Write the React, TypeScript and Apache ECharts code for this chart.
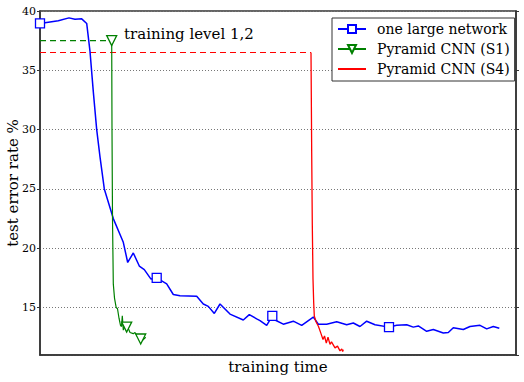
import React, { useEffect, useRef } from "react";
import * as echarts from "echarts";

// ---- data (x = training time in arbitrary units, y = test error rate %) ----
const blueX = [0, 18.3, 29, 35, 41.7, 46.7, 50, 53.3, 56.7, 60, 64.3, 73.3, 83.3, 87.7, 93.3, 99.3, 104.3, 111, 116.7, 126.7, 133.3, 140, 156.7, 163.3, 168.3, 174.3, 180, 190, 203.3, 209.3, 216.7, 220, 226.7, 232.3, 235, 243.3, 253.3, 261.7, 273.3, 278.3, 286.7, 296.7, 306.7, 313.3, 320, 326.7, 335, 349, 356.7, 366.7, 373.3, 378.3, 386.7, 393.3, 403.3, 408.3, 413.3, 423.3, 430, 440, 446.7, 453.3, 459.3];
const blueY = [38.95, 39.17, 39.42, 39.31, 39.34, 38.95, 36.6, 33.2, 30, 27.7, 25, 22.5, 20.5, 18.8, 19.6, 18.5, 18.2, 17.4, 17.5, 17.0, 16.1, 16.0, 15.95, 15.3, 15.1, 14.5, 15.3, 14.45, 13.95, 14.4, 14.05, 13.9, 13.5, 14.3, 13.95, 13.6, 13.85, 13.5, 14.2, 13.6, 13.6, 13.8, 13.55, 13.7, 13.4, 13.85, 13.55, 13.35, 13.5, 13.55, 13.35, 13.45, 13.0, 13.15, 12.85, 12.9, 13.3, 13.15, 13.4, 13.5, 13.2, 13.4, 13.25];
const blueMarkerX = [0, 116.7, 232.3, 349];

const greenX = [71.7, 72, 72.5, 73.3, 74.5, 76.2, 77.5, 79, 80.5, 81.5, 82.3, 83.3, 85, 86.7, 88, 90, 93.3, 95, 97, 100.7, 102, 105.7];
const greenY = [37.5, 30, 22.5, 17, 15.8, 15.0, 14.9, 14.1, 13.5, 13.4, 14.3, 13.1, 13.6, 13.35, 13.3, 12.9, 12.8, 12.9, 12.6, 12.35, 12.2, 12.5];
const greenMarkerX = [71.7, 86.7, 100.7];

const redX = [271, 271.3, 271.7, 272.3, 273, 273.7, 274.3, 276, 278.5, 281, 283, 284.5, 286.3, 288, 290, 291.5, 295, 297.5, 300, 301.7, 302.7, 303.3];
const redY = [36.5, 33, 28, 22, 17.4, 15.4, 14.3, 13.8, 13.4, 12.8, 12.3, 12.6, 12.0, 12.5, 11.9, 12.1, 11.6, 11.75, 11.35, 11.5, 11.3, 11.45];

const levelS1 = 37.5; // training level 1,2 (S1)
const levelS4 = 36.5; // training level (S4)

const seriesNames = ["one large network", "Pyramid CNN (S1)", "Pyramid CNN (S4)"];
const annotation = "training level 1,2";

const FONT = '"DejaVu Serif", serif';
const BLUE = "#0000ff";
const GREEN = "#008000";
const RED = "#ff0000";

function withMarkers(xs: number[], ys: number[], markers: number[]) {
  return xs.map((x, i) =>
    markers.includes(x) ? { value: [x, ys[i]] } : { value: [x, ys[i]], symbol: "none" }
  );
}

export default function App() {
  const ref = useRef<HTMLDivElement>(null);
  useEffect(() => {
    document.body.style.margin = "0";
    const chart = echarts.init(ref.current!, null, { renderer: "svg" });
    const yAxisBase = {
      type: "value",
      min: 11,
      max: 40,
      axisLine: { show: true, lineStyle: { color: "#333", width: 1.5 } },
      axisTick: { show: true, length: 3, lineStyle: { color: "#333" } },
    };
    chart.setOption({
      animation: false,
      backgroundColor: "#fff",
      grid: {
        left: 40,
        right: 8,
        top: 11,
        bottom: 27,
        show: true,
        borderColor: "#333",
        borderWidth: 1.5,
        outerBoundsMode: "none",
        containLabel: false,
      },
      xAxis: {
        type: "value",
        min: 0,
        max: 476,
        name: "training time",
        nameLocation: "middle",
        nameGap: 4,
        nameMoveOverlap: false,
        nameTextStyle: { fontFamily: FONT, fontSize: 15, color: "#000", verticalAlign: "top" },
        axisLine: { show: true, lineStyle: { color: "#333", width: 1.5 } },
        axisTick: { show: false },
        axisLabel: { show: false },
        splitLine: { show: false },
      },
      yAxis: [
        {
          ...yAxisBase,
          position: "left",
          name: "test error rate %",
          nameLocation: "middle",
          nameGap: 20,
          nameMoveOverlap: false,
          nameTextStyle: { fontFamily: FONT, fontSize: 15, color: "#000" },
          axisLabel: {
            showMinLabel: false,
            fontFamily: FONT,
            fontSize: 11,
            color: "#000",
            margin: 4,
          },
          splitLine: {
            show: true,
            lineStyle: { color: "#777", type: [1, 2], width: 1 },
          },
        },
        {
          ...yAxisBase,
          position: "right",
          axisLabel: { show: false },
          splitLine: { show: false },
        },
      ],
      legend: {
        data: [
          seriesNames[0],
          seriesNames[1],
          { name: seriesNames[2], itemStyle: { opacity: 0 } },
        ],
        orient: "vertical",
        left: 332,
        top: 18,
        padding: [4, 5, 5, 5],
        itemGap: 6,
        itemWidth: 28,
        itemHeight: 10,
        backgroundColor: "#fff",
        borderColor: "#333",
        borderWidth: 1,
        borderRadius: 0,
        textStyle: {
          fontFamily: FONT,
          fontSize: 14,
          color: "#000",
          lineHeight: 14,
          padding: [0, 0, 0, 6],
        },
      },
      graphic: [
        {
          type: "text",
          x: 124,
          y: 26,
          style: {
            text: annotation,
            font: `15px ${FONT}`,
            fill: "#000",
            textVerticalAlign: "top",
          },
        },
      ],
      series: [
        {
          name: "S1 level",
          type: "line",
          data: [[0, levelS1], [greenX[0], levelS1]],
          symbol: "none",
          lineStyle: { color: GREEN, width: 1.2, type: [6, 4] },
          z: 2,
        },
        {
          name: "S4 level",
          type: "line",
          data: [[0, levelS4], [redX[0], levelS4]],
          symbol: "none",
          lineStyle: { color: RED, width: 1.2, type: [6, 4] },
          z: 2,
        },
        {
          name: seriesNames[0],
          type: "line",
          data: withMarkers(blueX, blueY, blueMarkerX),
          color: BLUE,
          symbol: "rect",
          symbolSize: 9,
          lineStyle: { color: BLUE, width: 1.5 },
          itemStyle: { color: "#fff", borderColor: BLUE, borderWidth: 1.3 },
          z: 3,
        },
        {
          name: seriesNames[1],
          type: "line",
          data: withMarkers(greenX, greenY, greenMarkerX),
          color: GREEN,
          symbol: "triangle",
          symbolRotate: 180,
          symbolSize: 10,
          lineStyle: { color: GREEN, width: 1.2 },
          itemStyle: { color: "#fff", borderColor: GREEN, borderWidth: 1.3 },
          z: 3,
        },
        {
          name: seriesNames[2],
          type: "line",
          data: redX.map((x, i) => [x, redY[i]]),
          color: RED,
          symbol: "none",
          lineStyle: { color: RED, width: 1.3 },
          z: 3,
        },
      ],
    });
    return () => chart.dispose();
  }, []);
  return <div ref={ref} style={{ width: 524, height: 382 }} />;
}
